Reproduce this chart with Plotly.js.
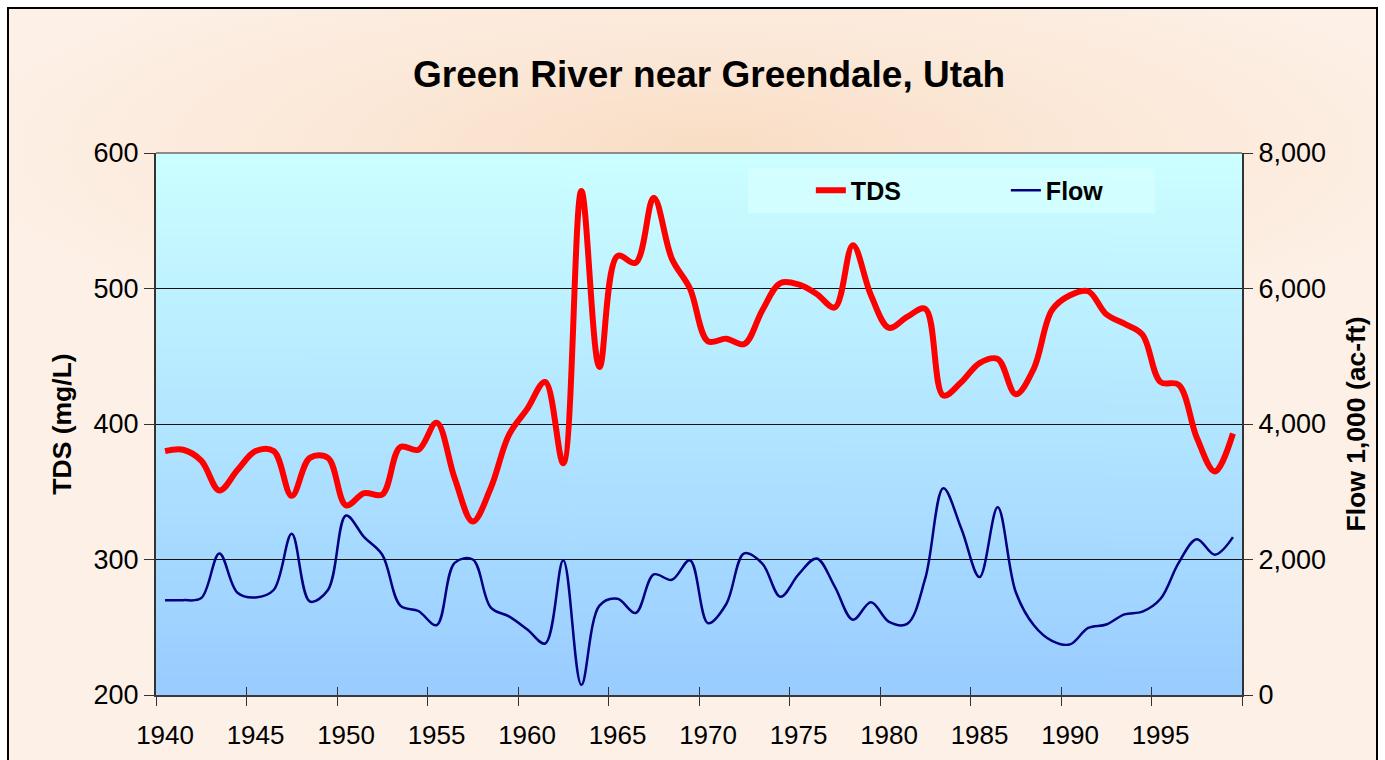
<!DOCTYPE html>
<html><head><meta charset="utf-8">
<script src="https://cdn.plot.ly/plotly-3.0.1.min.js"></script>
<style>
html,body{margin:0;padding:0;background:#fff;width:1385px;height:760px;overflow:hidden}
#frame{position:absolute;left:7px;top:7px;width:1371px;height:800px;border:2px solid #000;box-sizing:border-box;
background:radial-gradient(ellipse 760px 210px at 702px 140px,#F9DDC4 0%,#FBE7D6 45%,#FDF0E6 100%);}
#chart{position:absolute;left:0;top:0;width:1385px;height:760px}
</style></head><body>
<div id="frame"></div><div id="chart"></div>
<script>
const years = [1940,1941,1942,1943,1944,1945,1946,1947,1948,1949,
               1950,1951,1952,1953,1954,1955,1956,1957,1958,1959,
               1960,1961,1962,1963,1964,1965,1966,1967,1968,1969,
               1970,1971,1972,1973,1974,1975,1976,1977,1978,1979,
               1980,1981,1982,1983,1984,1985,1986,1987,1988,1989,
               1990,1991,1992,1993,1994,1995,1996,1997,1998,1999];
const tds = [380,381,373,351,366,380,380,347,375,375,
             340,349,348,383,381,401,360,328,353,392,
             411,431,371,572,442,524,519,567,522,500,
             461,463,459,484,504,503,496,486,532,495,
             471,479,485,421,431,445,448,422,441,484,
             495,498,481,474,466,431,429,390,365,393];
const flow = [1400,1400,1430,2090,1510,1440,1550,2380,1380,1550,
              2650,2330,2070,1320,1240,1030,1950,2000,1290,1160,
              970,760,1990,150,1320,1420,1210,1780,1700,1990,
              1060,1340,2090,1940,1450,1780,2015,1600,1110,1370,
              1080,1050,1720,3050,2450,1740,2770,1520,1030,800,
              747,990,1040,1190,1230,1420,1950,2300,2070,2330];
const labelYears = [1940,1945,1950,1955,1960,1965,1970,1975,1980,1985,1990,1995];
const tickLabels = ['1940','1945','1950','1955','1960','1965','1970','1975','1980','1985','1990','1995'];
const tdsTicks = [200,300,400,500,600];
const flowTicks = [0,2000,4000,6000,8000];

// plot-area gradient (background only)
const cv = document.createElement('canvas'); cv.width = 4; cv.height = 256;
const g = cv.getContext('2d'); const gr = g.createLinearGradient(0,0,0,256);
gr.addColorStop(0,'#CCFFFF'); gr.addColorStop(1,'#99CCFF');
g.fillStyle = gr; g.fillRect(0,0,4,256);
const bg = cv.toDataURL();

const FONT = 'Liberation Sans, Arial, Helvetica, sans-serif';
const firstYear = years[0] - 0.5, lastYear = years[years.length-1] + 0.5;

const traces = [
  {x: years, y: tds, name: '<b>TDS</b>', type: 'scatter', mode: 'lines',
   line: {color: '#FF0000', width: 6, shape: 'spline', smoothing: 1}, xaxis: 'x', yaxis: 'y'},
  {x: years, y: flow, name: '<b>Flow</b>', type: 'scatter', mode: 'lines',
   line: {color: '#000080', width: 2.5, shape: 'spline', smoothing: 1}, xaxis: 'x2', yaxis: 'y2'}
];

const layout = {
  width: 1385, height: 760,
  margin: {l: 156, r: 143, t: 153, b: 65},
  paper_bgcolor: 'rgba(0,0,0,0)', plot_bgcolor: 'rgba(0,0,0,0)',
  font: {family: FONT, color: '#000'},
  showlegend: true,
  title: {text: '<b>Green River near Greendale, Utah</b>', font: {size: 37, family: FONT, color: '#000'},
          x: 0.512, xref: 'container', xanchor: 'center', y: 0.903, yref: 'container', yanchor: 'middle'},
  xaxis: {range: [firstYear, lastYear], tickmode: 'array', tickvals: labelYears, ticktext: tickLabels,
          ticks: 'outside', ticklen: 16, tickcolor: 'rgba(0,0,0,0)', tickfont: {size: 26, family: FONT},
          showline: true, linecolor: '#3a3a3a', linewidth: 2, showgrid: false, zeroline: false,
          minor: {tickmode: 'linear', tick0: firstYear, dtick: 5, ticks: 'outside', ticklen: 9, tickcolor: '#333', tickwidth: 1, showgrid: false},
          fixedrange: true},
  xaxis2: {range: [firstYear, lastYear], overlaying: 'x', anchor: 'y2', side: 'bottom',
           tickmode: 'linear', tick0: firstYear, dtick: 5, ticks: 'inside', ticklen: 8, tickcolor: '#333', tickwidth: 1,
           showticklabels: false, showline: false, showgrid: false, zeroline: false, fixedrange: true},
  yaxis: {range: [200, 600], tickmode: 'array', tickvals: tdsTicks, ticks: 'outside', ticklen: 10, tickcolor: '#333',
          tickfont: {size: 27, family: FONT}, showline: true, linecolor: '#333', linewidth: 2,
          showgrid: true, gridcolor: '#111', gridwidth: 1, zeroline: false,
          title: {text: '<b>TDS (mg/L)</b>', font: {size: 26.5, family: FONT}, standoff: 14}, fixedrange: true},
  yaxis2: {range: [0, 8000], overlaying: 'y', side: 'right', anchor: 'x', tickmode: 'array', tickvals: flowTicks,
           tickformat: ',d', ticks: 'outside', ticklen: 9, tickcolor: '#333',
           tickfont: {size: 27, family: FONT}, showline: true, linecolor: '#333', linewidth: 2,
           showgrid: false, zeroline: false,
           title: {text: '<b>Flow 1,000 (ac-ft)</b>', font: {size: 26.5, family: FONT}, standoff: 21}, fixedrange: true},
  legend: {orientation: 'h', x: 0.603, xanchor: 'left', y: 0.931, yanchor: 'middle',
           bgcolor: 'rgba(0,0,0,0)', borderwidth: 0, font: {size: 25, family: FONT, color: '#000'},
           entrywidth: 150, entrywidthmode: 'pixels'},
  images: [{source: bg, xref: 'paper', yref: 'paper', x: 0, y: 1, sizex: 1, sizey: 1,
            sizing: 'stretch', xanchor: 'left', yanchor: 'top', layer: 'below'}],
  shapes: [
    {type: 'rect', xref: 'paper', yref: 'paper', x0: 0.545, x1: 0.920, y0: 0.889, y1: 0.972,
     fillcolor: 'rgba(214,255,255,0.75)', line: {width: 0}, layer: 'below'},
    {type: 'line', xref: 'paper', yref: 'paper', x0: 0, x1: 1, y0: 1, y1: 1,
     line: {color: '#8c8c8c', width: 2}, layer: 'above'}
  ]
};

Plotly.newPlot('chart', traces, layout, {displayModeBar: false, staticPlot: true});
</script>
</body></html>
